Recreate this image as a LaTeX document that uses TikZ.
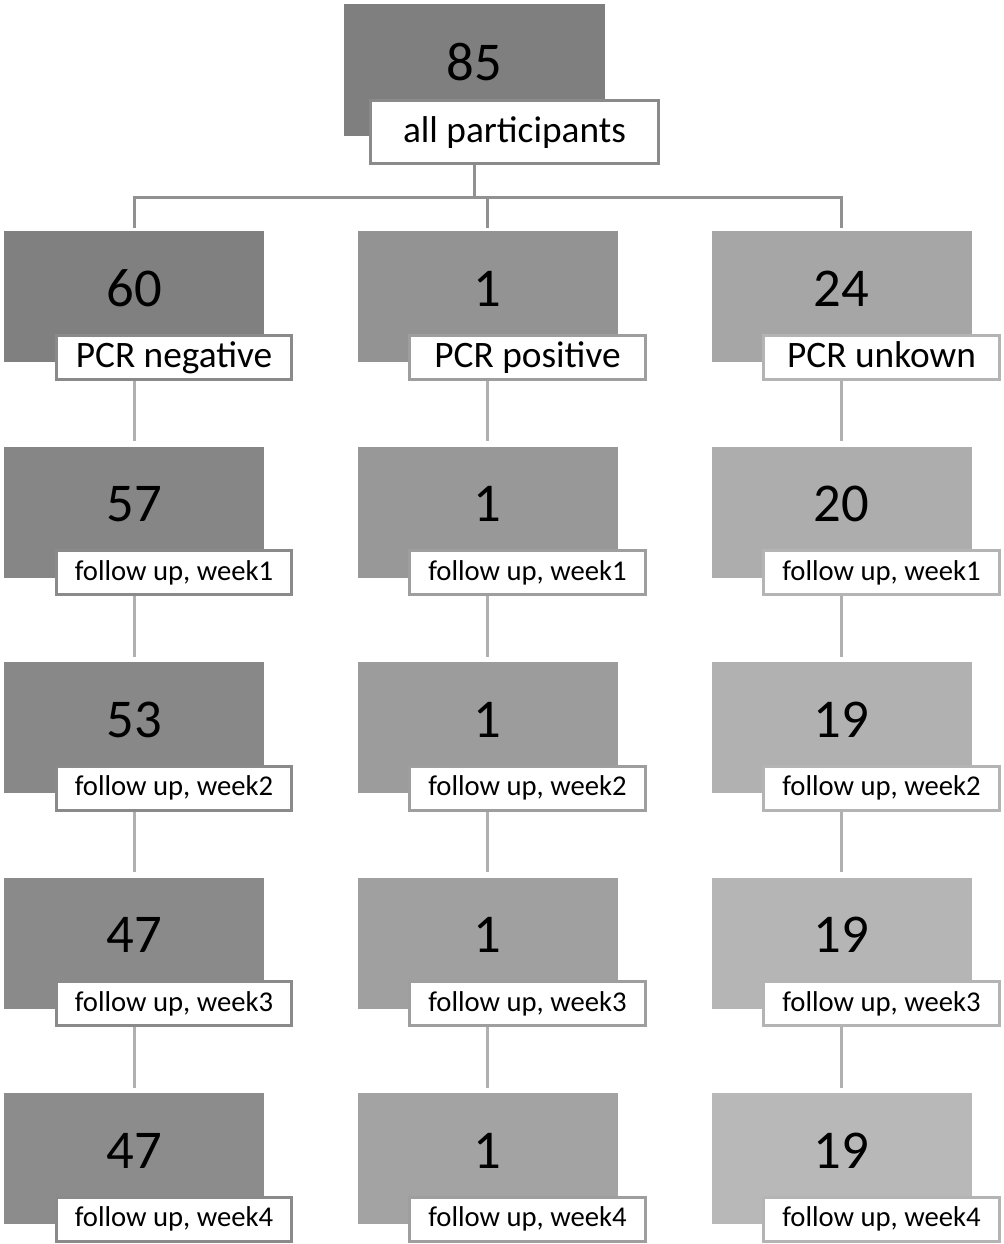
\documentclass[tikz,border=0pt]{standalone}
\usepackage{fontspec}
\setmainfont{Carlito}
\usepackage{tikz}

\definecolor{topfill}{RGB}{127,127,127}
\definecolor{aA}{RGB}{128,128,128}
\definecolor{aB}{RGB}{134,134,134}
\definecolor{aC}{RGB}{136,136,136}
\definecolor{aD}{RGB}{138,138,138}
\definecolor{aE}{RGB}{140,140,140}
\definecolor{bA}{RGB}{147,147,147}
\definecolor{bB}{RGB}{152,152,152}
\definecolor{bC}{RGB}{156,156,156}
\definecolor{bD}{RGB}{160,160,160}
\definecolor{bE}{RGB}{163,163,163}
\definecolor{cA}{RGB}{166,166,166}
\definecolor{cB}{RGB}{173,173,173}
\definecolor{cC}{RGB}{177,177,177}
\definecolor{cD}{RGB}{181,181,181}
\definecolor{cE}{RGB}{184,184,184}
\definecolor{tagA}{RGB}{138,138,138}
\definecolor{tagB}{RGB}{158,158,158}
\definecolor{tagC}{RGB}{180,180,180}
\definecolor{branchgray}{RGB}{145,145,145}
\definecolor{stemgray}{RGB}{176,176,176}

\begin{document}
\begin{tikzpicture}[x=0.75pt,y=0.75pt,yscale=-1,xscale=1,
  cell/.style={rectangle, inner sep=0pt, minimum width=195pt, minimum height=98.25pt},
  tagbox/.style={rectangle, draw, line width=2.25pt, fill=white, inner sep=0pt,
    text height=16pt, text depth=4.3pt,
    minimum width=176.5pt, minimum height=33pt, font=\fontsize{21.5}{22}\selectfont},
  bigtag/.style={tagbox, text height=21pt, text depth=5.6pt, font=\fontsize{28}{28}\selectfont},
  numtext/.style={inner sep=0pt, font=\fontsize{41}{41}\selectfont},
  branch/.style={draw=branchgray, line width=2.25pt},
  stem/.style={draw=stemgray, line width=2.25pt, shorten >=3.75pt}]
\useasboundingbox (0,0) rectangle (1003,1244);

%Shape: top box
\node[cell, fill=topfill, minimum width=195.75pt, minimum height=99pt] (all) at (474.5,70) {};
\node[numtext] (alln) at ([yshift=-6pt]all.center) {85};
\node[bigtag, draw=tagA, minimum width=216pt, minimum height=47.25pt] (alll) at ([xshift=30pt,yshift=46.5pt]all.center) {all participants};

%Shape: column 1
\node[cell, fill=aA] (neg1) at (134,296.5) {};
\node[cell, fill=aB] (neg2) at (134,512) {};
\node[cell, fill=aC] (neg3) at (134,727.5) {};
\node[cell, fill=aD] (neg4) at (134,943) {};
\node[cell, fill=aE] (neg5) at (134,1158.5) {};
% Text Node
\node[numtext] at ([yshift=-6pt]neg1.center) {60};
\node[numtext] at ([yshift=-6pt]neg2.center) {57};
\node[numtext] at ([yshift=-6pt]neg3.center) {53};
\node[numtext] at ([yshift=-6pt]neg4.center) {47};
\node[numtext] at ([yshift=-6pt]neg5.center) {47};
\node[bigtag, draw=tagA] (neg1l) at ([xshift=30pt,yshift=45.4pt]neg1.center) {PCR negative};
\node[tagbox, draw=tagA] (neg2l) at ([xshift=30pt,yshift=45.4pt]neg2.center) {follow up, week1};
\node[tagbox, draw=tagA] (neg3l) at ([xshift=30pt,yshift=45.4pt]neg3.center) {follow up, week2};
\node[tagbox, draw=tagA] (neg4l) at ([xshift=30pt,yshift=45.4pt]neg4.center) {follow up, week3};
\node[tagbox, draw=tagA] (neg5l) at ([xshift=30pt,yshift=45.4pt]neg5.center) {follow up, week4};

%Shape: column 2
\node[cell, fill=bA] (pos1) at (487.5,296.5) {};
\node[cell, fill=bB] (pos2) at (487.5,512) {};
\node[cell, fill=bC] (pos3) at (487.5,727.5) {};
\node[cell, fill=bD] (pos4) at (487.5,943) {};
\node[cell, fill=bE] (pos5) at (487.5,1158.5) {};
% Text Node
\node[numtext] at ([yshift=-6pt]pos1.center) {1};
\node[numtext] at ([yshift=-6pt]pos2.center) {1};
\node[numtext] at ([yshift=-6pt]pos3.center) {1};
\node[numtext] at ([yshift=-6pt]pos4.center) {1};
\node[numtext] at ([yshift=-6pt]pos5.center) {1};
\node[bigtag, draw=tagB] (pos1l) at ([xshift=30pt,yshift=45.4pt]pos1.center) {PCR positive};
\node[tagbox, draw=tagB] (pos2l) at ([xshift=30pt,yshift=45.4pt]pos2.center) {follow up, week1};
\node[tagbox, draw=tagB] (pos3l) at ([xshift=30pt,yshift=45.4pt]pos3.center) {follow up, week2};
\node[tagbox, draw=tagB] (pos4l) at ([xshift=30pt,yshift=45.4pt]pos4.center) {follow up, week3};
\node[tagbox, draw=tagB] (pos5l) at ([xshift=30pt,yshift=45.4pt]pos5.center) {follow up, week4};

%Shape: column 3
\node[cell, fill=cA] (unk1) at (841.5,296.5) {};
\node[cell, fill=cB] (unk2) at (841.5,512) {};
\node[cell, fill=cC] (unk3) at (841.5,727.5) {};
\node[cell, fill=cD] (unk4) at (841.5,943) {};
\node[cell, fill=cE] (unk5) at (841.5,1158.5) {};
% Text Node
\node[numtext] at ([yshift=-6pt]unk1.center) {24};
\node[numtext] at ([yshift=-6pt]unk2.center) {20};
\node[numtext] at ([yshift=-6pt]unk3.center) {19};
\node[numtext] at ([yshift=-6pt]unk4.center) {19};
\node[numtext] at ([yshift=-6pt]unk5.center) {19};
\node[bigtag, draw=tagC] (unk1l) at ([xshift=30pt,yshift=45.4pt]unk1.center) {PCR unkown};
\node[tagbox, draw=tagC] (unk2l) at ([xshift=30pt,yshift=45.4pt]unk2.center) {follow up, week1};
\node[tagbox, draw=tagC] (unk3l) at ([xshift=30pt,yshift=45.4pt]unk3.center) {follow up, week2};
\node[tagbox, draw=tagC] (unk4l) at ([xshift=30pt,yshift=45.4pt]unk4.center) {follow up, week3};
\node[tagbox, draw=tagC] (unk5l) at ([xshift=30pt,yshift=45.4pt]unk5.center) {follow up, week4};

%Straight Lines: tree
\coordinate (bar) at (474.5,198);
\draw[branch] (alll.south -| all) -- (bar);
\draw[branch] ([yshift=-2.25pt]neg1.north) |- (bar) -| ([yshift=-2.25pt]unk1.north);
\draw[branch] (bar -| pos1) -- ([yshift=-2.25pt]pos1.north);

%Straight Lines: columns
\draw[stem] (neg1l.south -| neg1) -- (neg2.north);
\draw[stem] (neg2l.south -| neg2) -- (neg3.north);
\draw[stem] (neg3l.south -| neg3) -- (neg4.north);
\draw[stem] (neg4l.south -| neg4) -- (neg5.north);
\draw[stem] (pos1l.south -| pos1) -- (pos2.north);
\draw[stem] (pos2l.south -| pos2) -- (pos3.north);
\draw[stem] (pos3l.south -| pos3) -- (pos4.north);
\draw[stem] (pos4l.south -| pos4) -- (pos5.north);
\draw[stem] (unk1l.south -| unk1) -- (unk2.north);
\draw[stem] (unk2l.south -| unk2) -- (unk3.north);
\draw[stem] (unk3l.south -| unk3) -- (unk4.north);
\draw[stem] (unk4l.south -| unk4) -- (unk5.north);

\end{tikzpicture}
\end{document}
